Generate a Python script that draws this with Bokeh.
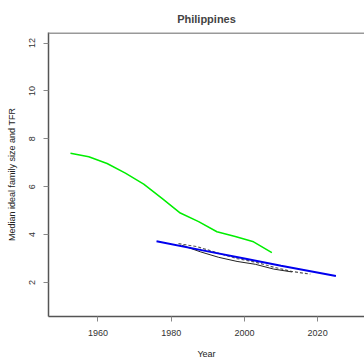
from bokeh.plotting import figure
from bokeh.models import Range1d, FixedTicker, Span
from bokeh.embed import file_html
from bokeh.resources import INLINE

# TFR (green)
tfr_years = [1952.5, 1957.5, 1962.5, 1967.5, 1972.5, 1977.5, 1982.5, 1987.5, 1992.5, 1997.5, 2002.5, 2007.5]
tfr_values = [7.40, 7.25, 6.97, 6.57, 6.11, 5.51, 4.90, 4.54, 4.12, 3.92, 3.70, 3.25]

# Fitted ideal family size (blue)
fit_years = [1976, 1990, 2000, 2010, 2025]
fit_values = [3.72, 3.30, 3.00, 2.70, 2.27]

# Ideal family size, survey series (black solid)
ifs_years = [1983, 1988, 1993, 1998, 2003, 2008, 2013]
ifs_values = [3.55, 3.28, 3.05, 2.88, 2.76, 2.56, 2.44]

# Ideal family size, survey series (dashed)
ifs2_years = [1982, 1987, 1993, 1998, 2003, 2008, 2013, 2018]
ifs2_values = [3.62, 3.50, 3.22, 3.00, 2.85, 2.64, 2.46, 2.35]

x_ticks = [1960, 1980, 2000, 2020]
y_ticks = [2, 4, 6, 8, 10, 12]
title_text = "Philippines"

FONT = "Liberation Sans"
Y_TOP = 12.44

p = figure(width=364, height=364, output_backend="svg", toolbar_location=None,
           x_range=Range1d(1946.5, 2032.8), y_range=Range1d(0.58, Y_TOP),
           min_border_left=48, min_border_right=0, min_border_top=32, min_border_bottom=48)

p.line(tfr_years, tfr_values, line_color="#00ee00", line_width=1.5)
p.line(ifs2_years, ifs2_values, line_color="#555555", line_width=1.2, line_dash="3 2")
p.line(ifs_years, ifs_values, line_color="#222222", line_width=1.0)
p.line(fit_years, fit_values, line_color="#0000ee", line_width=2.0)

p.add_layout(Span(location=Y_TOP, dimension="width", line_color="#999999", line_width=3))

p.title.text = title_text
p.title.align = "center"
p.title.vertical_align = "top"
p.title.text_font = FONT
p.title.text_font_size = "11px"
p.title.text_font_style = "bold"
p.title.standoff = 12

p.xgrid.visible = False
p.ygrid.visible = False
p.outline_line_color = None

for ax in (p.xaxis[0], p.yaxis[0]):
    ax.axis_line_color = "#555555"
    ax.axis_line_width = 1.5
    ax.major_tick_line_color = "#888888"
    ax.major_tick_out = 5
    ax.major_tick_in = 0
    ax.minor_tick_line_color = None
    ax.major_label_text_font = FONT
    ax.major_label_text_font_size = "9px"
    ax.major_label_text_color = "#333333"
    ax.axis_label_text_font = FONT
    ax.axis_label_text_font_size = "9px"
    ax.axis_label_text_font_style = "normal"
    ax.axis_label_text_color = "#222222"

p.xaxis.ticker = FixedTicker(ticks=x_ticks)
p.yaxis.ticker = FixedTicker(ticks=y_ticks)
p.xaxis.axis_label = "Year"
p.yaxis.axis_label = "Median ideal family size and TFR"
p.yaxis.major_label_orientation = "vertical"
p.xaxis.major_label_standoff = 8
p.yaxis.major_label_standoff = 8
p.xaxis.axis_label_standoff = 10
p.yaxis.axis_label_standoff = 10

open("out.html", "w").write(file_html(p, INLINE))
